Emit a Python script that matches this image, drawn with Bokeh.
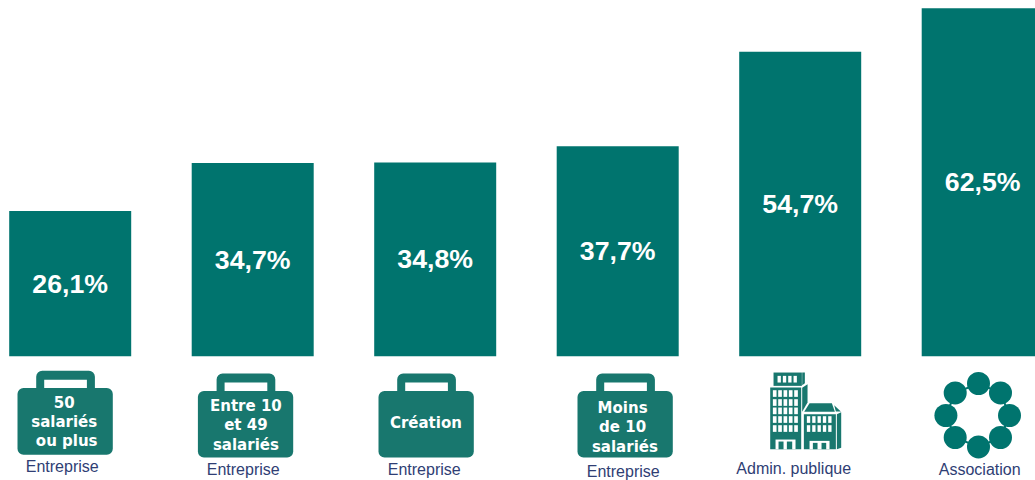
from bokeh.plotting import figure
from bokeh.models import Range1d
from bokeh.core.properties import value
from bokeh.embed import file_html
from bokeh.resources import INLINE

# Chart data
categories = ["50 salariés ou plus", "Entre 10 et 49 salariés", "Création",
              "Moins de 10 salariés", "Admin. publique", "Association"]
values = [26.1, 34.7, 34.8, 37.7, 54.7, 62.5]
value_labels = ["26,1%", "34,7%", "34,8%", "37,7%", "54,7%", "62,5%"]
sector_labels = ["Entreprise", "Entreprise", "Entreprise", "Entreprise",
                 "Admin. publique", "Association"]

BAR = "#00746E"
ICON = "#18776E"
NAVY = "#2F3E74"
WHITE = "#FFFFFF"

W, H = 1035, 480
PX_PER_UNIT = 5.568
PX_PER_CAT = 182.5
S = 0.3  # sub-pixel alignment of the whole drawing
p = figure(width=W, height=H, output_backend="svg", toolbar_location=None,
           x_range=Range1d((S - 70) / PX_PER_CAT, (1035 + S - 70) / PX_PER_CAT),
           y_range=Range1d(-(480 + S - 356) / PX_PER_UNIT, (356 - S) / PX_PER_UNIT),
           min_border=0, min_border_left=0, min_border_right=0,
           min_border_top=0, min_border_bottom=0, outline_line_color=None)
p.axis.visible = False
p.grid.visible = False
p.xaxis.visible = False
p.yaxis.visible = False
p.background_fill_color = WHITE

# Second coordinate system for the decorative pictograms (page pixels)
p.extra_x_ranges = {"px": Range1d(S, 1035 + S)}
p.extra_y_ranges = {"px": Range1d(480 + S, S)}
PX = dict(x_range_name="px", y_range_name="px")

xs = list(range(len(values)))
p.vbar(x=xs, top=values, bottom=0, width=122 / PX_PER_CAT, fill_color=BAR, line_color=None)
p.text(x=xs, y=[v / 2 for v in values], text=value_labels, text_color=WHITE,
       text_font=value("Liberation Sans"), text_font_style="bold", text_font_size="26.7px",
       text_align="center", text_baseline="middle")


def rect(l, r, t, b, color, radius=0):
    kw = {"border_radius": radius} if radius else {}
    p.quad(left=[l], right=[r], top=[t], bottom=[b], fill_color=color, line_color=None, **kw, **PX)


def briefcase(x0, y0, lines, text_xs, text_ys):
    # x0: body left, y0: handle top
    rect(x0 + 18.7, x0 + 77.4, y0, y0 + 25, ICON, 6)
    rect(x0 + 26.7, x0 + 69.4, y0 + 9, y0 + 17.5, WHITE)
    rect(x0, x0 + 95.3, y0 + 17.4, y0 + 84, ICON, 6)
    p.text(x=text_xs, y=text_ys, text=lines, text_color=WHITE,
           text_font=value("DejaVu Sans"), text_font_style="bold", text_font_size="15px",
           text_align="center", text_baseline="middle", **PX)


briefcase(17.3, 370.5, ["50", "salariés", "ou plus"], [64, 64, 66.5], [401.5, 421.5, 441])
briefcase(197.7, 373.3, ["Entre 10", "et 49", "salariés"], [245.7, 245.7, 245.7], [406, 425, 445])
briefcase(378.3, 373.3, ["Création"], [425.7], [423])
briefcase(577.3, 373.3, ["Moins", "de 10", "salariés"], [622.4, 622.4, 624.7], [408, 427, 446.5])

# Building pictogram (coordinates in 1/3 px around the zoom origin)
def bx(v): return 730 + v / 3
def by(v): return 365 + v / 3
def brect(l, r, t, b, c): rect(bx(l), bx(r), by(t), by(b), c)
def bpoly(pts, c):
    p.patch([bx(a) for a, _ in pts], [by(b) for _, b in pts], fill_color=c, line_color=None, **PX)

brect(130, 215, 22, 62, ICON)
bpoly([(216, 22), (224, 22), (224, 54), (216, 60)], ICON)
for wx in (142, 158, 174, 190):
    brect(wx, wx + 10, 32, 52, WHITE)
brect(120, 213, 67, 252, ICON)
bpoly([(216, 68), (232, 57), (232, 112), (216, 140)], ICON)
for wy in (75, 102, 127, 153, 180):
    for wx in (128, 144, 160, 176, 192):
        brect(wx, wx + 11, wy, wy + 20, WHITE)
brect(136, 196, 223, 252, WHITE)
brect(145, 160, 229, 252, ICON)
brect(170, 186, 229, 252, ICON)
bpoly([(222, 140), (238, 114), (305, 114), (314, 140)], ICON)
bpoly([(312, 120), (332, 139), (317, 139)], ICON)
brect(221, 317, 147, 252, ICON)
bpoly([(320, 147), (333, 141), (333, 248), (320, 252)], ICON)
for wy in (153, 180):
    for wx in (230, 246, 262, 278, 294):
        brect(wx, wx + 10, wy, wy + 20, WHITE)
brect(238, 298, 227, 252, WHITE)
brect(248, 262, 233, 252, ICON)
brect(274, 288, 233, 252, ICON)

# Association pictogram
ax = [978.3, 1000.3, 1009.3, 1000.3, 978.3, 955.0, 945.7, 955.0]
ay = [383.3, 392.7, 415.3, 437.3, 446.7, 437.3, 415.3, 392.7]
p.line(ax + ax[:1], ay + ay[:1], line_color=BAR, line_width=2, **PX)
p.scatter(ax, ay, size=23, fill_color=BAR, line_color=None, **PX)

# Sector captions
cap_x = [62, 243, 424, 623, 793.5, 979.5]
cap_y = [466.5, 469.5, 469.5, 471.5, 468, 469.5]
p.text(x=cap_x, y=cap_y, text=sector_labels, text_color=NAVY,
       text_font=value("Liberation Sans"), text_font_size="16px",
       text_align="center", text_baseline="middle", **PX)

open("out.html", "w").write(file_html(p, INLINE))
